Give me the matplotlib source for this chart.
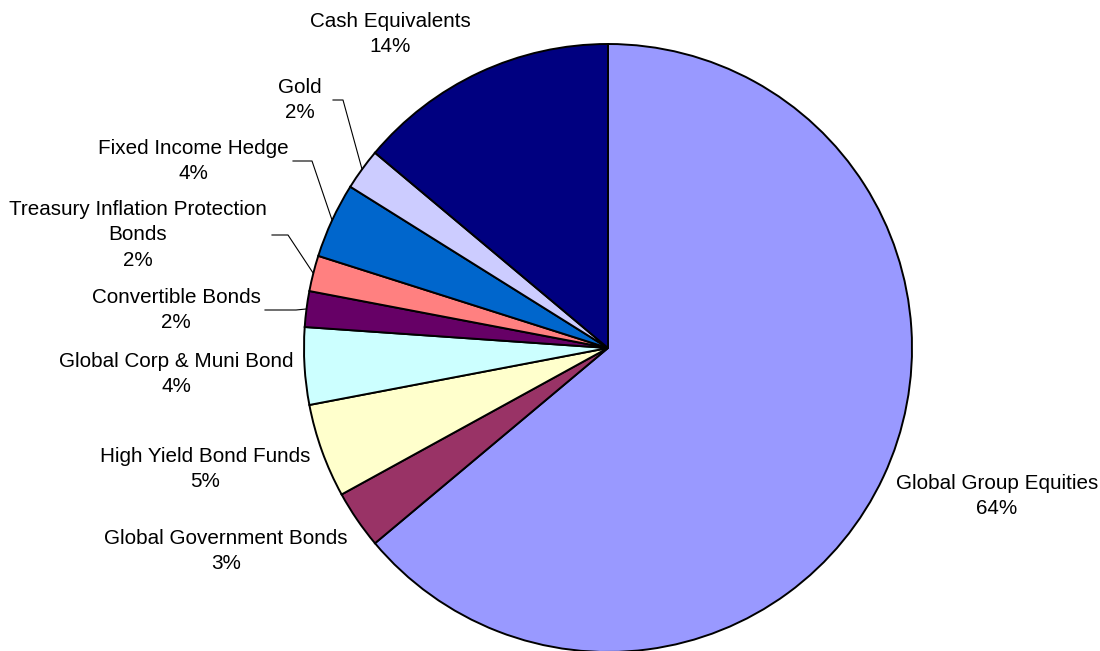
import numpy as np
import matplotlib
matplotlib.use("Agg")
import matplotlib.pyplot as plt

# slices, clockwise from 12 o'clock
names = ['Global Group Equities', 'Global Government Bonds', 'High Yield Bond Funds',
         'Global Corp & Muni Bond', 'Convertible Bonds',
         'Treasury Inflation Protection\nBonds', 'Fixed Income Hedge', 'Gold',
         'Cash Equivalents']
values = [63.9, 3.1, 5.0, 4.1, 1.9, 1.9, 4.0, 2.2, 13.9]
colors = ['#9999FF', '#993366', '#FFFFCC', '#CCFFFF', '#660066',
          '#FF8080', '#0066CC', '#CCCCFF', '#000080']

W, H = 1100, 651
cx, cy, R = 608, 348, 304

# label block centres (pixels, y from the top)
label_pos = [(997, 496), (226, 551), (205, 469), (176, 374), (176, 310),
             (138, 235), (193, 161), (300, 100), (390, 34)]
# leader lines: (start x, elbow x) or None
leaders = [None, None, None, None, (265, 296), (272, 288), (293, 312), (333, 343), None]


def fy(y):
    return H - y


fig = plt.figure(figsize=(W / 100, H / 100), dpi=100)
ax = fig.add_axes([0, 0, 1, 1])
wedges, _ = ax.pie(values, colors=colors, startangle=90, counterclock=False,
                   center=(cx, fy(cy)), radius=R,
                   wedgeprops=dict(edgecolor='black', linewidth=1.4))
ax.set_xlim(0, W)
ax.set_ylim(0, H)
ax.set_aspect('auto')
ax.axis('off')

total = sum(values)
for w, name, v, (lx, ly), ld in zip(wedges, names, values, label_pos, leaders):
    ax.text(lx, fy(ly), f"{name}\n{round(v / total * 100)}%", ha='center', va='center',
            multialignment='center', fontsize=14.9, family='Liberation Sans',
            linespacing=1.42, color='black')
    if ld is not None:
        mid = np.deg2rad((w.theta1 + w.theta2) / 2)
        ex = cx + R * np.cos(mid)
        ey = fy(cy) + R * np.sin(mid)
        ax.plot([ld[0], ld[1], ex], [fy(ly), fy(ly), ey], color='black', linewidth=0.8)

fig.savefig('out.png', dpi=100)
